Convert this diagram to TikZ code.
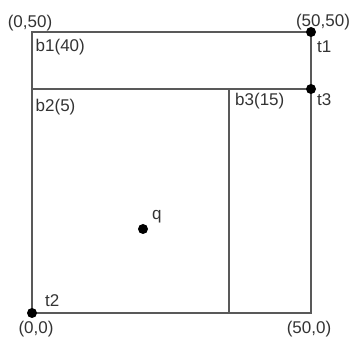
\documentclass[tikz,border=0pt]{standalone}
\usepackage{fontspec}
\setmainfont{Liberation Sans}
\begin{document}
\begin{tikzpicture}[x=1pt,y=-1pt,
  lbl/.style={inner sep=0pt,text=black!80,font=\fontsize{17}{20}\selectfont},
  edge/.style={draw=black!65,line width=1.4pt},
  dot/.style={circle,fill=black,inner sep=0pt,minimum size=10pt}]
\useasboundingbox (0,0) rectangle (354,339);
\coordinate (tl) at (32,32);
\coordinate (tr) at (311,32);
\coordinate (ml) at (32,89);
\coordinate (mr) at (311,89);
\coordinate (bl) at (32,313);
\coordinate (br) at (311,313);
\coordinate (b3t) at (229,89);
\coordinate (b3b) at (229,313);
\draw[edge] (tl) -- (tr) -- (br) -- (bl) -- cycle;
\draw[edge] (ml) -- (mr);
\draw[edge] (b3t) -- (b3b);
\node[dot] (t1) at (tr) {};
\node[dot] (t3) at (mr) {};
\node[dot] (t2) at (bl) {};
\node[dot] (q) at (143,229) {};
\node[lbl,anchor=base] (l050) at (30,28) {(0,50)};
\node[lbl,anchor=base west] (lb1) at (35.5,52) {b1(40)};
\node[lbl,anchor=base west] (lb2) at (35.5,112) {b2(5)};
\node[lbl,anchor=base] (l5050) at (323,27) {(50,50)};
\node[lbl,anchor=base west] (lt1) at (317,53) {t1};
\node[lbl,anchor=base west] (lb3) at (235,105.5) {b3(15)};
\node[lbl,anchor=base west] (lt3) at (317,105.5) {t3};
\node[lbl,anchor=base west] (lt2) at (45,307) {t2};
\node[lbl,anchor=base] (l00) at (36,334) {(0,0)};
\node[lbl,anchor=base] (l500) at (309,334) {(50,0)};
\node[lbl,anchor=base west] (lq) at (152,220) {q};
\end{tikzpicture}
\end{document}
